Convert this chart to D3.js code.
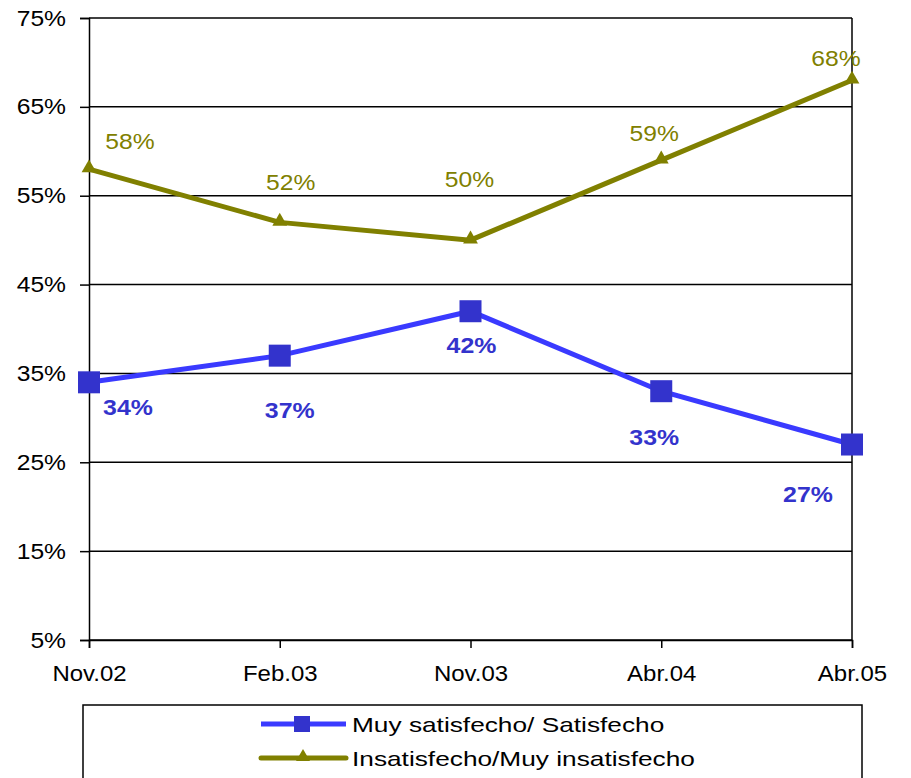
<!DOCTYPE html>
<html><head><meta charset="utf-8">
<script src="https://cdn.jsdelivr.net/npm/d3@7"></script>
<style>body{margin:0;background:#fff}svg{display:block;font-family:Arial,"Liberation Sans",sans-serif}</style>
</head><body><svg id="c" width="911" height="778"></svg>
<script>
const categories = ["Nov.02","Feb.03","Nov.03","Abr.04","Abr.05"];
const satisfecho = [34,37,42,33,27];
const insatisfecho = [58,52,50,59,68];
const yTicks = [5,15,25,35,45,55,65,75];
const seriesNames = ["Muy satisfecho/ Satisfecho","Insatisfecho/Muy insatisfecho"];

const svg = d3.select("#c");
const L=89,R=852,T=18,B=640;
const x = d3.scalePoint().domain(categories).range([L,R]).padding(0);
const y = d3.scaleLinear().domain([5,75]).range([B,T]);
const blueLine="#3a3aff", blueMark="#3333cc", olive="#808000";
const FF="Arial,'Liberation Sans',sans-serif";

function stretch(sel, f){
  sel.each(function(){
    const w = this.getComputedTextLength();
    d3.select(this).attr("textLength", w*f).attr("lengthAdjust","spacingAndGlyphs");
  });
}

// gridlines
svg.append("g").selectAll("line").data(yTicks).join("line")
  .attr("x1",L).attr("x2",R).attr("y1",d=>y(d)).attr("y2",d=>y(d))
  .attr("stroke","#000").attr("stroke-width",1.5);
svg.append("line").attr("x1",R).attr("x2",R).attr("y1",T).attr("y2",B).attr("stroke","#000").attr("stroke-width",1.5);

// y axis
const ya = svg.append("g").attr("transform",`translate(${L},0)`)
  .call(d3.axisLeft(y).tickValues(yTicks).tickFormat(d=>d+"%").tickSize(9).tickPadding(14));
ya.select(".domain").attr("stroke","#000").attr("stroke-width",1.5);
ya.selectAll(".tick line").attr("stroke","#000").attr("stroke-width",1.5);
ya.selectAll("text").attr("font-size",22).attr("fill","#000").attr("font-family",FF).call(stretch,1.12);

// x axis
const xa = svg.append("g").attr("transform",`translate(0,${B})`)
  .call(d3.axisBottom(x).tickSize(8).tickPadding(17));
xa.select(".domain").attr("stroke","#000").attr("stroke-width",1.5);
xa.selectAll(".tick line").attr("stroke","#000").attr("stroke-width",1.5);
xa.selectAll("text").attr("font-size",22).attr("fill","#000").attr("font-family",FF).call(stretch,1.09);

const line = d3.line().x((d,i)=>x(categories[i])).y(d=>y(d));

// olive series
svg.append("path").datum(insatisfecho).attr("d",line).attr("fill","none")
  .attr("stroke",olive).attr("stroke-width",5).attr("stroke-linejoin","round");
const tri = d3.symbol().type(d3.symbolTriangle).size(95);
svg.append("g").selectAll("path").data(insatisfecho).join("path")
  .attr("d",tri).attr("fill",olive)
  .attr("transform",(d,i)=>`translate(${x(categories[i])},${y(d)-1})`);

// blue series
svg.append("path").datum(satisfecho).attr("d",line).attr("fill","none")
  .attr("stroke",blueLine).attr("stroke-width",5);
svg.append("g").selectAll("rect").data(satisfecho).join("rect")
  .attr("x",(d,i)=>x(categories[i])-11).attr("y",d=>y(d)-11)
  .attr("width",22).attr("height",22).attr("fill",blueMark);

// labels
const oliveOff=[[41,-28],[11,-40],[-1,-61],[-7,-27],[-16,-22]];
svg.append("g").selectAll("text").data(insatisfecho).join("text")
  .attr("x",(d,i)=>x(categories[i])+oliveOff[i][0]).attr("y",(d,i)=>y(d)+oliveOff[i][1]+8)
  .attr("text-anchor","middle")
  .attr("font-size",22).attr("fill",olive).text(d=>d+"%").call(stretch,1.12);
const blueOff=[[39,25],[10,54],[1,34],[-7,46],[-44,49]];
svg.append("g").selectAll("text").data(satisfecho).join("text")
  .attr("x",(d,i)=>x(categories[i])+blueOff[i][0]).attr("y",(d,i)=>y(d)+blueOff[i][1]+8)
  .attr("text-anchor","middle")
  .attr("font-size",22).attr("font-weight","bold").attr("fill",blueMark).text(d=>d+"%").call(stretch,1.13);

// legend
svg.append("rect").attr("x",83).attr("y",705).attr("width",779).attr("height",90)
  .attr("fill","none").attr("stroke","#000").attr("stroke-width",1.5);
const lg = svg.append("g");
[0,1].forEach(k=>{
  const yy = k===0?724:758;
  lg.append("line").attr("x1",261).attr("x2",346).attr("y1",yy).attr("y2",yy)
    .attr("stroke",k===0?blueLine:olive).attr("stroke-width",5).attr("stroke-linecap",k===0?"butt":"round");
  if(k===0) lg.append("rect").attr("x",302-8).attr("y",yy-8).attr("width",16).attr("height",16).attr("fill",blueMark);
  else lg.append("path").attr("d",d3.symbol().type(d3.symbolTriangle).size(85)).attr("fill",olive)
    .attr("transform",`translate(303,${yy-1})`);
  lg.append("text").attr("x",352).attr("y",yy+7.5)
    .attr("font-size",21).attr("fill","#000").text(seriesNames[k]).call(stretch,1.25);
});
</script></body></html>
